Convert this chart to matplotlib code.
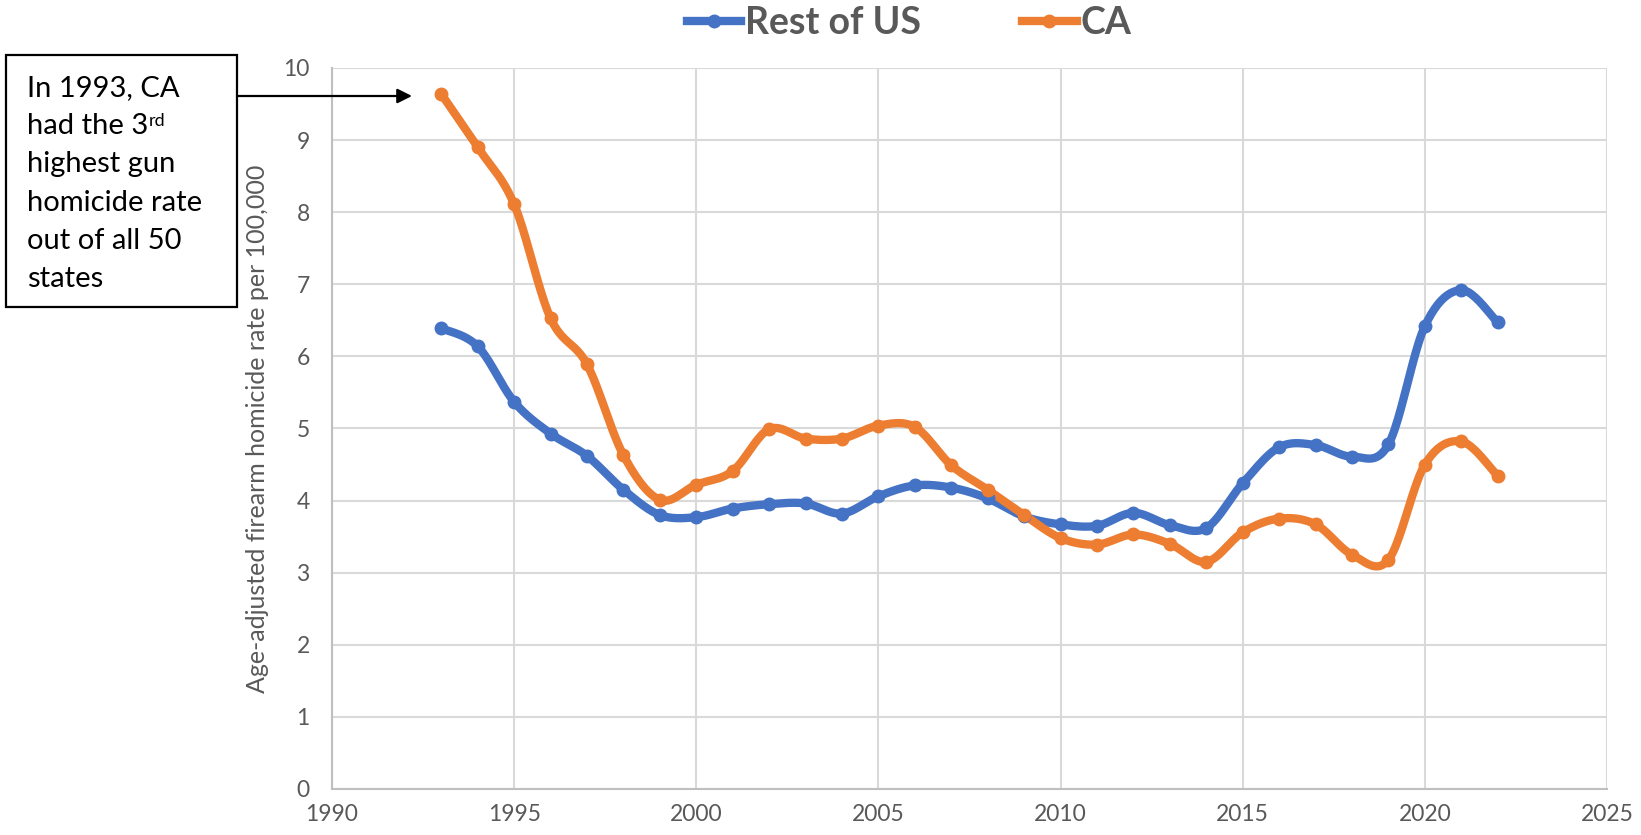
import numpy as np
import matplotlib.pyplot as plt
from matplotlib.patches import Rectangle

plt.rcParams['font.family'] = ['Lato', 'DejaVu Sans']

years = list(range(1993, 2023))
rest_of_us = [6.39, 6.14, 5.37, 4.93, 4.62, 4.15, 3.80, 3.77, 3.89, 3.95,
              3.96, 3.82, 4.06, 4.21, 4.18, 4.03, 3.78, 3.67, 3.65, 3.83,
              3.66, 3.62, 4.24, 4.74, 4.77, 4.61, 4.78, 6.42, 6.92, 6.47]
ca = [9.64, 8.90, 8.11, 6.53, 5.89, 4.63, 4.01, 4.22, 4.41, 4.99,
      4.86, 4.86, 5.04, 5.02, 4.49, 4.15, 3.80, 3.48, 3.39, 3.53,
      3.40, 3.15, 3.56, 3.75, 3.67, 3.25, 3.18, 4.50, 4.82, 4.34]

BLUE = '#4472C4'
ORANGE = '#ED7D31'
GREY = '#595959'


# Excel style smoothed line (Catmull-Rom through the data points)
def smooth(x, y, n=24):
    p = np.column_stack([x, y]).astype(float)
    p = np.vstack([p[0], p, p[-1]])
    out = []
    t = np.linspace(0, 1, n)[:, None]
    for i in range(1, len(p) - 2):
        p0, p1, p2, p3 = p[i - 1], p[i], p[i + 1], p[i + 2]
        c1 = p1 + (p2 - p0) / 6
        c2 = p2 - (p3 - p1) / 6
        seg = ((1 - t) ** 3) * p1 + 3 * ((1 - t) ** 2) * t * c1 + 3 * (1 - t) * t ** 2 * c2 + t ** 3 * p2
        out.append(seg if i == 1 else seg[1:])
    out = np.vstack(out)
    return out[:, 0], out[:, 1]


fig = plt.figure(figsize=(16.41, 8.35), dpi=100)
ax = fig.add_axes([0.2023, 0.0551, 0.7770, 0.8635])

for vals, col, name in [(rest_of_us, BLUE, 'Rest of US'), (ca, ORANGE, 'CA')]:
    sx, sy = smooth(years, vals)
    ax.plot(sx, sy, color=col, lw=6, solid_capstyle='round', zorder=3)
    ax.plot(years, vals, 'o', color=col, ms=9, zorder=4)
    ax.plot([], [], color=col, lw=6, marker='o', ms=9, label=name)

ax.set_xlim(1990, 2025)
ax.set_ylim(0, 10)
ax.set_xticks(range(1990, 2026, 5))
ax.set_yticks(range(0, 11))
ax.grid(True, color='#D9D9D9', lw=1.5)
ax.set_axisbelow(True)
for s in ['top', 'right']:
    ax.spines[s].set_visible(False)
for s in ['left', 'bottom']:
    ax.spines[s].set_color('#BFBFBF')
    ax.spines[s].set_linewidth(1.5)
ax.tick_params(length=0, labelsize=16.5, colors=GREY, pad=11)
ax.tick_params(axis='y', pad=16)
ax.set_ylabel('Age-adjusted firearm homicide rate per 100,000', fontsize=18, color=GREY, labelpad=10)

leg = fig.legend(loc='center', bbox_to_anchor=(0.554, 0.972), ncol=2, frameon=False,
                 handlelength=1.45, handletextpad=0.1, columnspacing=2.7,
                 prop={'weight': 'bold', 'size': 27})
for t in leg.get_texts():
    t.set_color(GREY)

# annotation box
fig.patches.append(Rectangle((6 / 1641, 1 - 307 / 835), 231 / 1641, 252 / 835,
                             transform=fig.transFigure, fill=False, ec='black', lw=1.6))
lines = ['In 1993, CA', 'had the 3', 'highest gun', 'homicide rate', 'out of all 50', 'states']
for i, s in enumerate(lines):
    t = fig.text(27 / 1641, 1 - (88 + i * 38.2) / 835, s, fontsize=21, va='center', ha='left')
    if i == 1:
        ax.annotate('rd', xy=(1, 1.02), xycoords=t, fontsize=13, va='top', ha='left')

ax.annotate('', xy=(412 / 1641, 1 - 96 / 835), xycoords='figure fraction',
            xytext=(237 / 1641, 1 - 96 / 835), textcoords='figure fraction',
            arrowprops=dict(arrowstyle='-|>', color='black', lw=1.6, mutation_scale=22,
                            shrinkA=0, shrinkB=0),
            annotation_clip=False)

fig.savefig('out.png', dpi=100)
